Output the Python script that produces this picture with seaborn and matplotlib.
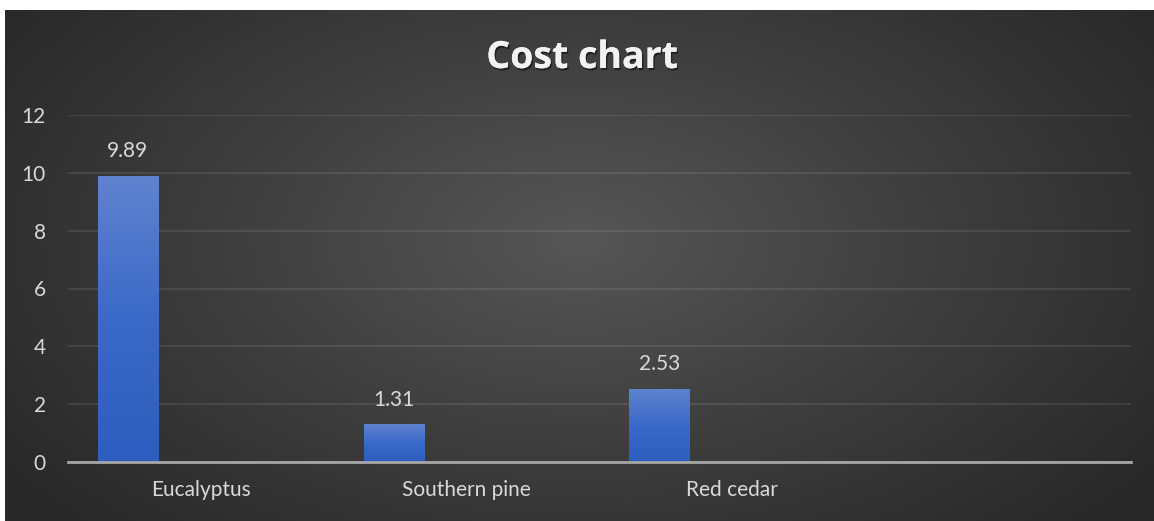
import numpy as np
import pandas as pd
import matplotlib
matplotlib.use("Agg")
import matplotlib.pyplot as plt
import matplotlib.patheffects as pe
from matplotlib.colors import LinearSegmentedColormap
import seaborn as sns

# Data
categories = ["Eucalyptus", "Southern pine", "Red cedar", ""]
costs = [9.89, 1.31, 2.53, np.nan]
title = "Cost chart"
y_ticks = [0, 2, 4, 6, 8, 10, 12]

df = pd.DataFrame({"pos": np.arange(len(categories)), "cost": costs})

sns.set_theme(style="white")
plt.rcParams["font.family"] = ["Lato", "DejaVu Sans"]

W, H, DPI = 1154, 521, 100
fig = plt.figure(figsize=(W / DPI, H / DPI), dpi=DPI, facecolor="white")

# Dark radial-gradient chart background with a thin white margin top/left
bg_ax = fig.add_axes([5 / W, 0, 1 - 5 / W, (H - 10) / H], zorder=0)
gy, gx = np.mgrid[0:1:300j, 0:1:600j]
r = np.sqrt(((gx - 0.5) / 0.62) ** 2 + ((gy - 0.45) / 0.8) ** 2)
r = np.clip(r, 0, 1)
bg_cmap = LinearSegmentedColormap.from_list("bg", ["#565656", "#3e3e3e", "#282828"])
bg_ax.imshow(r, cmap=bg_cmap, aspect="auto", extent=[0, 1, 0, 1], vmin=0, vmax=1)
bg_ax.set_axis_off()

# Plot area
ax = fig.add_axes([68 / W, 1 - 462 / H, (1131 - 68) / W, (462 - 115) / H], zorder=1)
ax.patch.set_alpha(0)

bar_w = 0.226
sns.barplot(data=df, x="pos", y="cost", native_scale=True, width=bar_w,
            color="#4472C4", saturation=1, ax=ax, zorder=3, errorbar=None)

# Vertical gradient fill on each bar
bar_cmap = LinearSegmentedColormap.from_list("bar", ["#2D5DBE", "#3A69C8", "#6083CF"])
grad = np.linspace(0, 1, 256).reshape(-1, 1)
for p in list(ax.patches):
    h = p.get_height()
    if not np.isfinite(h) or h == 0:
        continue
    x0 = p.get_x()
    im = ax.imshow(grad, cmap=bar_cmap, aspect="auto", origin="lower",
                   extent=[x0, x0 + p.get_width(), 0, h], zorder=4)
    im.set_clip_path(p)
    p.set_alpha(0)
    ax.text(x0 + p.get_width() / 2, h + 0.85, f"{h:.2f}", ha="center", va="center",
            color="#D9D9D9", fontsize=15, zorder=5)

offset = 0.275
ax.set_xlim(-0.5 + offset, len(categories) - 0.5 + offset)
ax.set_ylim(0, 12)
ax.set_xticks(np.arange(len(categories)) + offset)
ax.set_xticklabels(categories)
ax.set_yticks(y_ticks)
ax.set_xlabel("")
ax.set_ylabel("")

ax.yaxis.grid(True, color="white", alpha=0.09, linewidth=1.5, zorder=1)
ax.set_axisbelow(True)
for s in ["top", "right", "left"]:
    ax.spines[s].set_visible(False)
ax.spines["bottom"].set_color("#A6A6A6")
ax.spines["bottom"].set_linewidth(2)
ax.spines["bottom"].set_zorder(6)
ax.tick_params(axis="both", length=0, colors="#D9D9D9", labelsize=15)
ax.tick_params(axis="y", pad=16)
ax.tick_params(axis="x", pad=13)

fig.text(582 / W, 1 - 58 / H, title, ha="center", va="center", color="#F2F2F2",
         fontsize=27, fontweight="bold", family=["Open Sans", "DejaVu Sans"],
         path_effects=[pe.withSimplePatchShadow(offset=(1, -1.5), shadow_rgbFace="black", alpha=0.5),
                       pe.Normal()])

fig.savefig("out.png", dpi=DPI, facecolor="white")
